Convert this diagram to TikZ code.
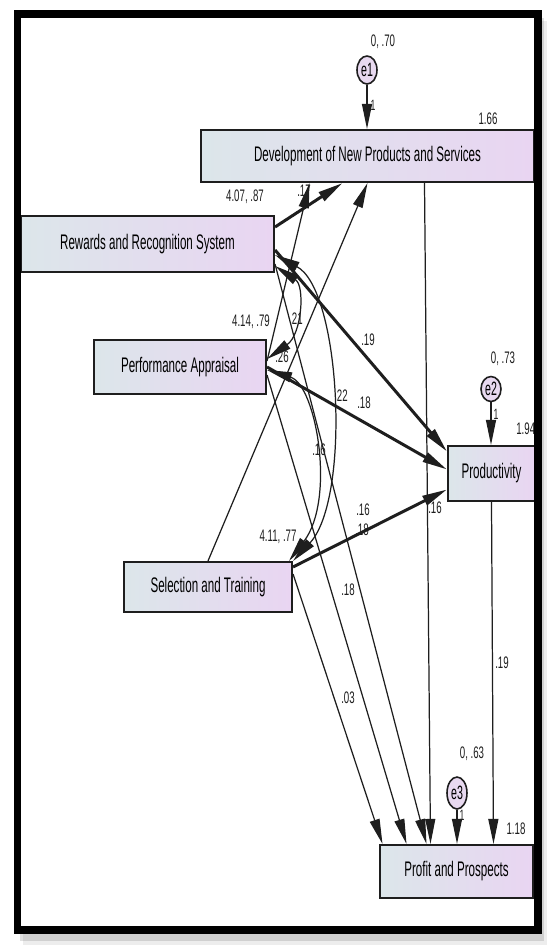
\documentclass[tikz,border=0pt]{standalone}
\usepackage{fontspec}
\newfontfamily\amosfont{Liberation Sans}[FakeStretch=0.55]
\newfontfamily\amosnum{Liberation Sans}[FakeStretch=0.58]
\usetikzlibrary{arrows.meta,calc,shapes.geometric}
\definecolor{boxleft}{HTML}{DCE6EA}
\definecolor{boxright}{HTML}{E9D5F2}
\definecolor{errfill}{HTML}{E8D9F0}
\definecolor{ink}{HTML}{1E1E1E}

\begin{document}
\begin{tikzpicture}[x=0.02cm,y=-0.02cm,
  obs/.style={draw=ink,line width=1.2pt,left color=boxleft,right color=boxright,inner sep=0pt,font=\amosfont\fontsize{12}{14}\selectfont},
  err/.style={draw=ink,ellipse,fill=errfill,line width=0.9pt,minimum width=0.4cm,minimum height=0.56cm,inner sep=0pt,font=\amosfont\fontsize{11}{13}\selectfont},
  num/.style={font=\amosnum\fontsize{9.5}{11}\selectfont,text=ink,inner sep=0pt},
  one/.style={num,font=\amosnum\fontsize{8.5}{10}\selectfont},
  reg/.style={-{Triangle[length=5mm,width=2mm]},line width=0.7pt,draw=ink},
  regthick/.style={reg,line width=1.7pt},
  cov/.style={{Triangle[length=5mm,width=2mm]}-{Triangle[length=5mm,width=2mm]},line width=0.7pt,draw=ink}]

\useasboundingbox (0,0) rectangle (548,947);
\fill[white] (0,0) rectangle (548,947);
% soft shadow under the frame
\fill[black,opacity=.07] (23,21) rectangle (547,945);
\fill[black,opacity=.12] (20,18) rectangle (544,941);
\fill[white] (21,17) rectangle (534,926);

% observed variables
\node[obs,minimum width=6.66cm,minimum height=1.04cm] (dnps) at (367.5,156) {Development of New Products and Services};
\node[obs,minimum width=5.06cm,minimum height=1.12cm] (rrs)  at (147.5,244) {Rewards and Recognition System};
\node[obs,minimum width=3.44cm,minimum height=1.08cm] (pa)   at (180,367)   {Performance Appraisal};
\node[obs,minimum width=3.36cm,minimum height=1.0cm]  (sat)  at (208,587)   {Selection and Training};
\node[obs,minimum width=1.74cm,minimum height=1.1cm]  (prod) at (491.5,473.5) {Productivity};
\node[obs,minimum width=3.06cm,minimum height=1.06cm] (pp)   at (456.5,871.5) {Profit and Prospects};

% error terms
\node[err] (e1) at (367,70) {e1};
\node[err,minimum height=0.5cm] (e2) at (491,389) {e2};
\node[err,minimum height=0.64cm] (e3) at (457,793) {e3};

% estimates
\node[num] (m1)  at (383,42)  {0, .70};
\node[one] (w1)  at (373,105) {1};
\node[num] (r1)  at (488,119) {1.66};
\node[num] (m2)  at (245,197) {4.07, .87};
\node[num] (c1)  at (304,191) {.17};
\node[num] (m3)  at (251,322) {4.14, .79};
\node[num] (c2)  at (296,319) {.21};
\node[num] (c3)  at (282,357) {.26};
\node[num] (c4)  at (368,340) {.19};
\node[num] (m4)  at (503,359) {0, .73};
\node[one] (w2)  at (496,414) {1};
\node[num,anchor=west] (r2) at (516,429) {1.94};
\node[num] (c5)  at (341,396) {.22};
\node[num] (c6)  at (364,403) {.18};
\node[num] (c7)  at (319,450) {.16};
\node[num] (c8)  at (435,508) {.16};
\node[num] (c9)  at (363,510) {.16};
\node[num] (c10) at (362,530) {.18};
\node[num] (m5)  at (278,537) {4.11, .77};
\node[num] (c11) at (348,590) {.18};
\node[num] (c12) at (502,663) {.19};
\node[num] (c13) at (348,698) {.03};
\node[num] (m6)  at (472,754) {0, .63};
\node[one] (w3)  at (462,815) {1};
\node[num] (r3)  at (516,829) {1.18};

% error paths
\draw[reg] (e1) -- (e1 |- dnps.north);
\draw[reg] (e2) -- (e2 |- prod.north);
\draw[reg] (e3) -- (e3 |- pp.north);

% regressions into DNPS
\draw[regthick] ($(rrs.east)+(0,-17)$) -- ($(dnps.south)+(-25,0)$);
\draw[reg] ($(pa.east)+(0,-6)$) -- ($(dnps.south)+(-58,0)$);
\draw[reg] (sat.north) -- (dnps.south);

% regressions into productivity
\draw[regthick] ($(rrs.east)+(0,6)$) -- ($(prod.west)+(0,-22)$);
\draw[regthick] (pa.east) -- ($(prod.west)+(0,-4)$);
\draw[regthick] ($(sat.north east)+(0,6)$) -- ($(prod.west)+(0,16)$);

% regressions into profit
\draw[reg] ($(rrs.east)+(0,20)$) -- ($(pp.north)+(-30,0)$);
\draw[reg] ($(pa.east)+(0,8)$) -- ($(pp.north)+(-50,0)$);
\draw[reg] ($(sat.north east)+(0,13)$) -- ($(pp.north)+(-74,0)$);
\draw[reg] ($(dnps.south)+(57,0)$) -- ($(pp.north)+(-26,0)$);
\draw[reg] (prod.south) -- ($(pp.north)+(37,0)$);

% covariances
\draw[cov] ($(rrs.east)+(0,22)$) .. controls +(30,20) and +(35,-25) .. ($(pa.east)+(0,-8)$);
\draw[cov] ($(rrs.east)+(0,11)$) .. controls +(66,35) and +(58,-62) .. (sat.north east);
\draw[cov] ($(pa.east)+(0,3)$) .. controls +(49,15) and +(47,-62) .. ($(sat.north east)+(-4,0)$);

% frame
\draw[line width=0.16cm] (17.5,13.5) rectangle (538,930);
\end{tikzpicture}
\end{document}
